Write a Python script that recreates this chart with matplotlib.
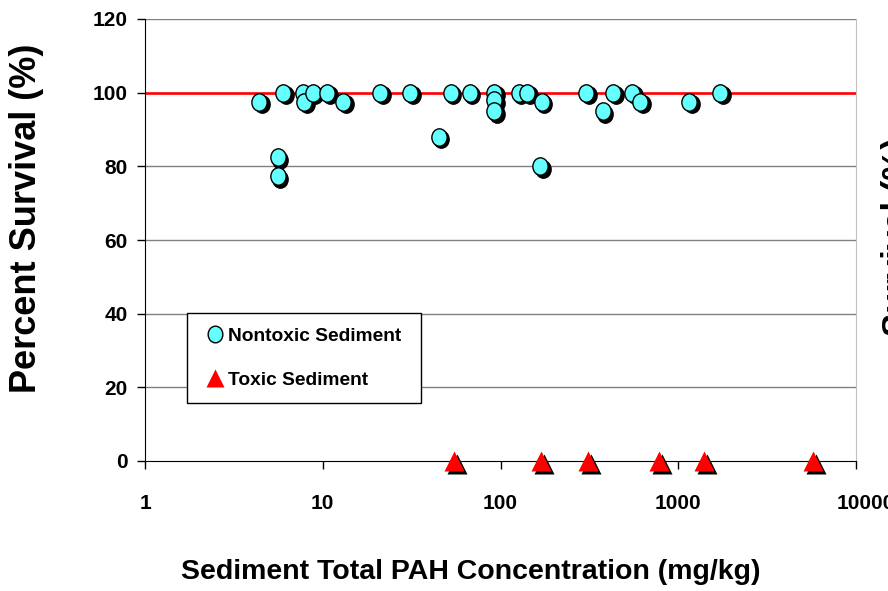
import numpy as np
import matplotlib
matplotlib.use("Agg")
import matplotlib.pyplot as plt
from matplotlib.path import Path
from matplotlib.transforms import Affine2D, offset_copy, ScaledTranslation
from matplotlib.lines import Line2D

plt.rcParams['font.family'] = ['Liberation Sans', 'DejaVu Sans']
plt.rcParams['font.weight'] = 'bold'

# nontoxic sediments: total PAH (mg/kg) vs survival (%)
nontox_pah = [4.4, 5.6, 5.6, 6.0, 7.7, 7.85, 8.8, 10.6, 13.0, 21.0, 31.0, 45.0,
              52.6, 67.0, 92.0, 92.0, 92.0, 127, 141, 171, 167, 303, 377, 430,
              550, 610, 1150, 1720]
nontox_surv = [97.5, 82.5, 77.3, 100, 100, 97.5, 100, 100, 97.5, 100, 100, 88,
               100, 100, 100, 98, 95, 100, 100, 97.5, 80, 100, 95, 100,
               100, 97.5, 97.5, 100]

# toxic sediments
tox_pah = [55, 169, 312, 782, 1396, 5750]
tox_surv = [0, 0, 0, 0, 0, 0]

ref_line = 100
yticks = [0, 20, 40, 60, 80, 100, 120]
xticks = [1, 10, 100, 1000, 10000]

# slightly tall ellipse marker
ellipse = Path.unit_circle().transformed(Affine2D().scale(0.88, 1.0))

fig = plt.figure(figsize=(8.88, 5.91), dpi=100)
ax = fig.add_axes([145/888, 1-461/591, 711/888, 442/591])

ax.set_xscale('log')
ax.set_xlim(1, 10000)
ax.set_ylim(0, 120)

for t in yticks[1:]:
    if t == ref_line:
        continue
    ax.axhline(t, color='#808080', lw=1.0, zorder=1)
ax.axhline(ref_line, color='#ff0000', lw=1.9, zorder=2)

shadow = offset_copy(ax.transData, fig=fig, x=2.5, y=-2.5, units='dots')
ax.plot(nontox_pah, nontox_surv, ls='none', marker=ellipse, ms=12.5,
        mfc='black', mec='black', mew=1, transform=shadow, zorder=3, clip_on=False)
ax.plot(nontox_pah, nontox_surv, ls='none', marker=ellipse, ms=12.5,
        mfc='#66ffff', mec='black', mew=1, zorder=4, clip_on=False)

ax.plot(tox_pah, tox_surv, ls='none', marker='^', ms=14.5, mfc='black',
        mec='none', transform=shadow, zorder=5, clip_on=False)
ax.plot(tox_pah, tox_surv, ls='none', marker='^', ms=14.5, mfc='#ff0000',
        mec='none', zorder=6, clip_on=False)

ax.set_xticks(xticks)
ax.set_xticklabels([str(v) for v in xticks])
ax.xaxis.set_minor_locator(matplotlib.ticker.NullLocator())
ax.set_yticks(yticks)
ax.tick_params(axis='x', direction='out', length=6, width=1, pad=18,
               labelsize=15)
ax.tick_params(axis='y', direction='out', length=6, width=1, pad=6.5,
               labelsize=15)
for lab in ax.get_xticklabels() + ax.get_yticklabels():
    lab.set_fontweight('bold')

# last x label sits a little to the right, running off the edge
last = ax.get_xticklabels()[-1]
last.set_transform(last.get_transform() + ScaledTranslation(0.1, 0, fig.dpi_scale_trans))

ax.spines['top'].set_visible(False)
ax.spines['right'].set_color('#c0c0c0')
ax.spines['left'].set_color('black')
ax.spines['bottom'].set_color('black')

handles = [
    Line2D([], [], ls='none', marker=ellipse, ms=12, mfc='#66ffff', mec='black',
           mew=1, label='Nontoxic Sediment'),
    Line2D([], [], ls='none', marker='^', ms=13, mfc='#ff0000', mec='none',
           label='Toxic Sediment'),
]
leg = ax.legend(handles=handles, loc='lower left',
                bbox_to_anchor=(42/711, 58/442, 234/711, 90/442), mode='expand',
                borderaxespad=0, frameon=True, fancybox=False, framealpha=1,
                edgecolor='black', borderpad=0.75, labelspacing=1.4,
                handlelength=1.4, handletextpad=0.0,
                prop={'weight': 'bold', 'size': 13.75})
leg.get_frame().set_linewidth(1.0)

fig.text(27/888, 1-218/591, 'Percent Survival (%)', rotation=90, ha='center',
         va='center', fontsize=26, fontweight='bold')
fig.text(471/888, 1-572/591, 'Sediment Total PAH Concentration (mg/kg)',
         ha='center', va='center', fontsize=20.5, fontweight='bold')
fig.text(881/888, 1-237/591, 'Survival (%)', rotation=90, ha='left',
         va='center', fontsize=25, fontweight='bold')

fig.savefig('out.png', dpi=100)
